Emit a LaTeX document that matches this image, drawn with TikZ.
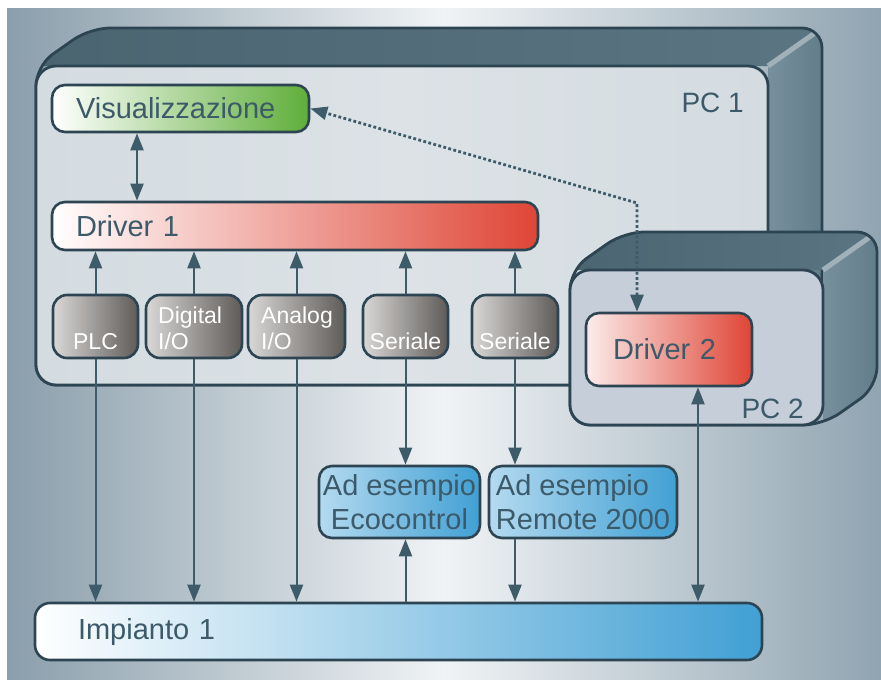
\documentclass[tikz,border=0pt]{standalone}
\usepackage{fontspec}
\setmainfont{Liberation Sans}
\usetikzlibrary{arrows.meta}
\definecolor{bord}{HTML}{2D4452}
\definecolor{txt}{HTML}{3C5A69}
\definecolor{arrc}{HTML}{3E5B69}
\definecolor{bgside}{HTML}{8A9EAB}
\definecolor{bgright}{HTML}{90A4B1}
\definecolor{bgmid}{HTML}{F0F3F5}
\definecolor{topA}{HTML}{4A6470}
\definecolor{topB}{HTML}{5B7583}
\definecolor{sideA}{HTML}{78909D}
\definecolor{sideB}{HTML}{5F7A88}
\definecolor{front1}{HTML}{D4DCE1}
\definecolor{front1b}{HTML}{DCE2E6}
\definecolor{front2}{HTML}{C6CED9}
\definecolor{visg}{HTML}{5FAE3A}
\definecolor{redd}{HTML}{DF4536}
\definecolor{blued}{HTML}{41A0D4}
\definecolor{bluel}{HTML}{B4DAF0}
\definecolor{greyl}{HTML}{DAD8D6}
\definecolor{greyd}{HTML}{5E5B59}
\begin{document}
\begin{tikzpicture}[x=1pt,y=-1pt,
  box/.style={draw=bord, line width=2.6pt, rounded corners=13pt, inner sep=0pt,
    font=\fontsize{29}{34}\selectfont, text=txt},
  gbox/.style={draw=bord, line width=2.6pt, rounded corners=14pt, inner sep=0pt,
    left color=greyl, right color=greyd, minimum height=63pt},
  gtxt/.style={inner sep=0pt, text=white, font=\fontsize{23}{26}\selectfont, align=left},
  pcfront/.style={draw=bord, line width=2.8pt, rounded corners=20pt, inner sep=0pt},
  pcline/.style={draw=bord, line width=2.8pt, rounded corners=20pt},
  pclab/.style={inner sep=0pt, text=txt, font=\fontsize{28}{32}\selectfont},
  conn/.style={draw=arrc, line width=2pt},
  tip/.style={-{Triangle[length=17pt,width=13pt]}},
  bitip/.style={{Triangle[length=17pt,width=13pt]}-{Triangle[length=17pt,width=13pt]}},
  dotconn/.style={draw=arrc, line width=2.8pt, dash pattern=on 2.8pt off 2.4pt}
]
\useasboundingbox (0,0) rectangle (881,680);
% background
\fill[white] (0,0) rectangle (881,680);
\shade[left color=bgside, right color=bgright, middle color=bgmid] (7,8) rectangle (881,680);

% ---------- PC 1 ----------
\begin{scope}
  \clip[rounded corners=20pt] (36,385) -- (36,66) -- (90,28) -- (822,28) -- (822,347) -- (768,385) -- cycle;
  \shade[left color=topA, right color=topB] (30,66) -- (90,20) -- (830,20) -- (768,66) -- cycle;
  \shade[left color=sideA, right color=sideB] (768,66) -- (830,20) -- (830,350) -- (768,390) -- cycle;
  \draw[line width=5pt, sideA!70!white] (768,66) -- (822,28);
\end{scope}
\path[pcline] (36,385) -- (36,66) -- (90,28) -- (822,28) -- (822,347) -- (768,385) -- cycle;
\node[pcfront, left color=front1, right color=front1, middle color=front1b, minimum width=732pt, minimum height=319pt] (pc1f) at (402,225.5) {};
\node[pclab, anchor=base east] (pc1) at (744,112) {PC 1};

% contents of PC 1
\node[box, left color=white, right color=visg, minimum width=257pt, minimum height=47pt,
  text width=209pt, align=left] (vis) at (180.5,108.5) {Visualizzazione};
\node[box, left color=white, right color=redd, minimum width=486pt, minimum height=48pt,
  text width=438pt, align=left] (drv1) at (295,226) {Driver 1};

\node[gbox, minimum width=85pt] (plc) at (95.5,326.5) {};
\node[gbox, minimum width=96pt] (dig) at (194,326.5) {};
\node[gbox, minimum width=97pt] (ana) at (296.5,326.5) {};
\node[gbox, minimum width=85pt] (ser1) at (405.5,326.5) {};
\node[gbox, minimum width=86pt] (ser2) at (515,326.5) {};
\node[gtxt, anchor=base] (plct) at (95.5,349) {PLC};
\node[gtxt, anchor=base west] (digt) at (158,349) {Digital\\I/O};
\node[gtxt, anchor=base west] (anat) at (261,349) {Analog\\I/O};
\node[gtxt, anchor=base] (ser1t) at (405.5,349) {Seriale};
\node[gtxt, anchor=base] (ser2t) at (515,349) {Seriale};

% ---------- PC 2 ----------
\begin{scope}
  \clip[rounded corners=20pt] (570,425) -- (570,270) -- (624,232) -- (877,232) -- (877,387) -- (823,425) -- cycle;
  \shade[left color=topA, right color=topB] (560,270) -- (624,225) -- (885,225) -- (823,270) -- cycle;
  \shade[left color=sideA, right color=sideB] (823,270) -- (885,225) -- (885,390) -- (823,430) -- cycle;
  \draw[line width=5pt, sideA!70!white] (823,270) -- (877,232);
\end{scope}
\path[pcline] (570,425) -- (570,270) -- (624,232) -- (877,232) -- (877,387) -- (823,425) -- cycle;
\node[pcfront, fill=front2, minimum width=253pt, minimum height=155pt] (pc2f) at (696.5,347.5) {};
\node[pclab, anchor=base east] (pc2) at (804,418) {PC 2};
\node[box, left color=white!90!redd, right color=redd, minimum width=166pt, minimum height=73pt,
  text width=112pt, align=left] (drv2) at (669,349.5) {Driver 2};

% ---------- outside ----------
\node[box, left color=bluel, right color=blued, minimum width=161pt, minimum height=72pt,
  align=center] (eco) at (399.5,502) {Ad esempio\\Ecocontrol};
\node[box, left color=bluel, right color=blued, minimum width=188pt, minimum height=72pt,
  align=left] (rem) at (583,502) {Ad esempio\\Remote 2000};
\node[box, rounded corners=15pt, left color=white, right color=blued, minimum width=727pt, minimum height=57pt,
  text width=641pt, align=left] (imp) at (398.5,631.5) {Impianto 1};

% ---------- connectors ----------
\coordinate (xv) at (137,0);
\coordinate (xd2) at (698,0);
\coordinate (xdot) at (637,0);
\coordinate (ybend) at (0,203);
\draw[conn, bitip] (vis.south -| xv) -- (drv1.north -| xv);
\foreach \b in {plc,dig,ana,ser1,ser2} {
  \draw[conn, tip] (\b.north) -- (\b.north |- drv1.south);
}
\foreach \b in {plc,dig,ana} {
  \draw[conn, tip] (\b.south) -- (\b.south |- imp.north);
}
\draw[conn, tip] (ser1.south) -- (ser1.south |- eco.north);
\draw[conn, tip] (imp.north -| ser1.south) -- (eco.south -| ser1.south);
\draw[conn, tip] (ser2.south) -- (ser2.south |- rem.north);
\draw[conn, tip] (rem.south -| ser2.south) -- (imp.north -| ser2.south);
\draw[conn, bitip] (drv2.south -| xd2) -- (imp.north -| xd2);
\draw[dotconn, bitip] (drv2.north -| xdot) -- (xdot |- ybend) -- (vis.east);
\end{tikzpicture}
\end{document}
